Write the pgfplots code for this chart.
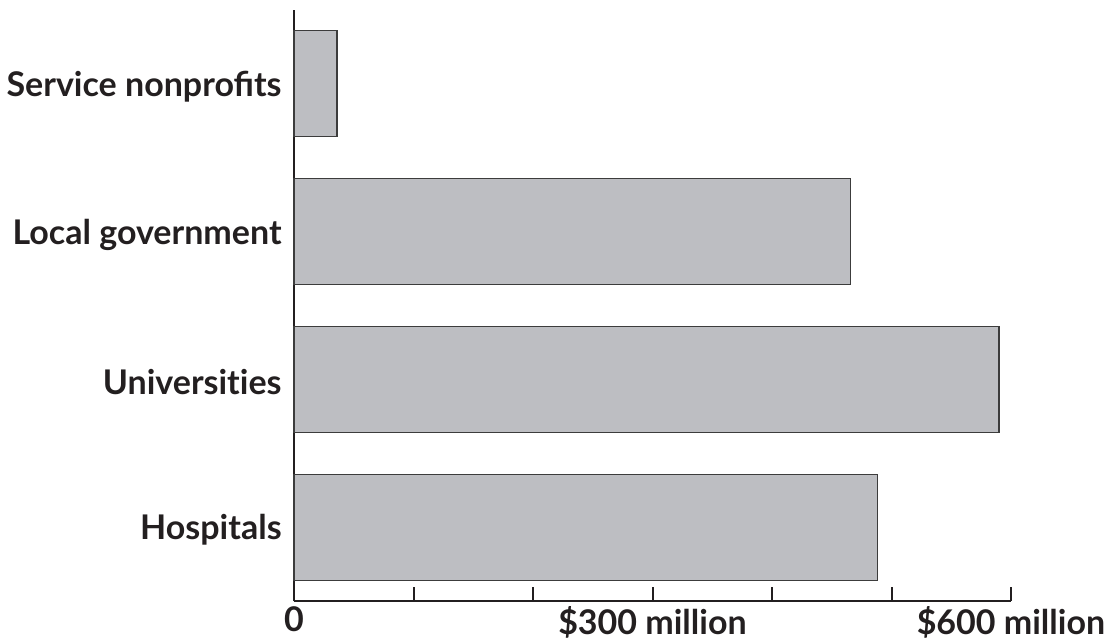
\documentclass[border=0pt]{standalone}
\usepackage{pgfplots}
\pgfplotsset{compat=1.18}
\usepackage{fontspec}
\setmainfont{Lato}
\definecolor{barfill}{RGB}{189,190,194}
\definecolor{baredge}{RGB}{60,60,60}
\definecolor{txt}{RGB}{35,31,32}
\begin{document}
\begin{tikzpicture}
\begin{axis}[name=ax, scale only axis, width=358.5pt, height=295.5pt,
 xbar, bar width=53pt, xmin=0, xmax=600, ymin=-0.5, ymax=3.5,
 axis lines=left, axis line style={-, line width=1pt, txt},
 xtick={0,100,...,600}, xticklabels={0,,,\$300 million,,,\$600 million},
 ytick={0,1,2,3}, yticklabels={Hospitals,Universit\kern0pt ies,Local government,Service nonprofits},
 tick align=inside, major tick length=7pt,
 xtick style={line width=1pt, txt}, ytick style={draw=none},
 ticklabel style={font=\fontsize{17}{20}\selectfont\bfseries, text=txt},
 xticklabel style={anchor=north, inner sep=0pt, yshift=-2.5pt},
 yticklabel style={anchor=east, inner sep=0pt, xshift=-6pt, yshift=-1.5pt},
 /pgf/number format/assume math mode=true,
 clip=false]
\addplot[fill=barfill, draw=baredge, line width=0.6pt] coordinates {(488,0) (590,1) (466,2) (36,3)};
\end{axis}
\pgfresetboundingbox
\path[use as bounding box] ([xshift=-147pt, yshift=-20pt]ax.south west) rectangle ([xshift=49.5pt, yshift=5pt]ax.north east);
\end{tikzpicture}
\end{document}
